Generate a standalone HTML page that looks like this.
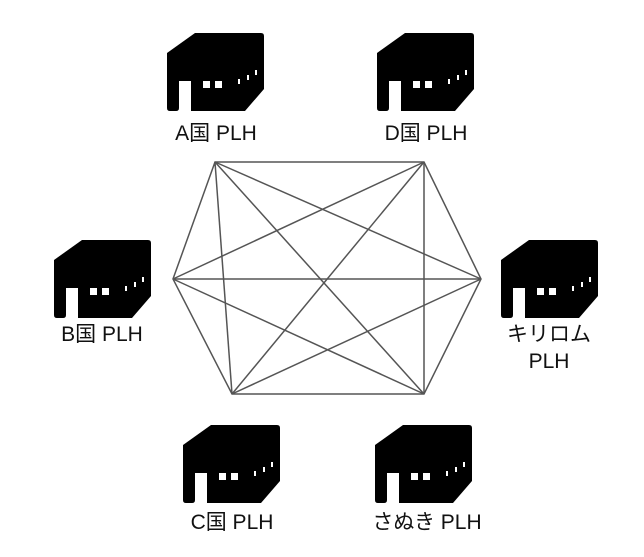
<!DOCTYPE html>
<html><head><meta charset="utf-8"><style>
body{margin:0;background:#fff;width:644px;height:552px;overflow:hidden}
svg text{font-family:"Liberation Sans","Noto Sans CJK JP",sans-serif;font-size:21px;fill:#111;text-anchor:middle}
</style></head><body>
<svg width="644" height="552" viewBox="0 0 644 552" xmlns="http://www.w3.org/2000/svg">
<defs>
<g id="ic">
<path d="M28,0 H94 Q97,0 97,3 V56 L78,78 H24 V48 H12 V75 Q12,78 9,78 H3 Q0,78 0,75 V20 Z" fill="#000"/>
<rect x="36" y="48" width="7" height="7" fill="#fff"/>
<rect x="48" y="48" width="7" height="7" fill="#fff"/>
<rect x="71" y="46" width="2" height="5" fill="#fff"/>
<rect x="80" y="42" width="2" height="5" fill="#fff"/>
<rect x="88" y="37" width="2" height="5" fill="#fff"/>
</g>
</defs>
<g stroke="#555" stroke-width="1.5" fill="none">
<polygon points="215,162 424,162 481,279 424,394 232,394 173,279"/>
<line x1="215" y1="162" x2="481" y2="279"/>
<line x1="215" y1="162" x2="424" y2="394"/>
<line x1="215" y1="162" x2="232" y2="394"/>
<line x1="424" y1="162" x2="173" y2="279"/>
<line x1="424" y1="162" x2="232" y2="394"/>
<line x1="424" y1="162" x2="424" y2="394"/>
<line x1="481" y1="279" x2="173" y2="279"/>
<line x1="481" y1="279" x2="232" y2="394"/>
<line x1="173" y1="279" x2="424" y2="394"/>
</g>
<use href="#ic" x="167" y="33"/>
<use href="#ic" x="377" y="33"/>
<use href="#ic" x="54" y="240"/>
<use href="#ic" x="501" y="240"/>
<use href="#ic" x="183" y="425"/>
<use href="#ic" x="375" y="425"/>
<text x="216" y="140">A国 PLH</text>
<text x="426" y="140">D国 PLH</text>
<text x="102" y="341">B国 PLH</text>
<text x="549" y="341">キリロム</text>
<text x="549" y="368">PLH</text>
<text x="232" y="529">C国 PLH</text>
<text x="427" y="529">さぬき PLH</text>
</svg>
</body></html>
